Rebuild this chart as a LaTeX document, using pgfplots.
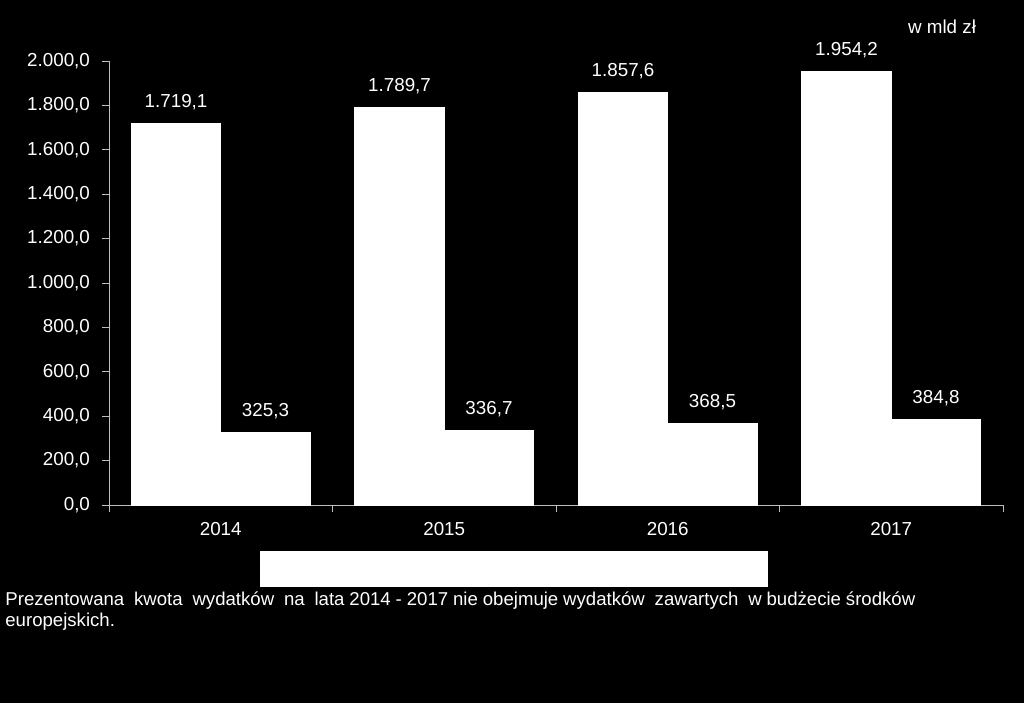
\documentclass[border=0pt]{standalone}
\usepackage{pgfplots}
\pgfplotsset{compat=1.18}
\usepackage{fontspec}
\setmainfont{Liberation Sans}
\definecolor{axisgray}{RGB}{190,190,190}

\begin{document}
\begin{tikzpicture}
% background, 1024x703 px at 0.5pt per px
\fill[black] (0,0) rectangle (512pt,351.5pt);
\begin{axis}[
    at={(54.5pt,99pt)},
    anchor=south west,
    scale only axis,
    width=447pt,
    height=222pt,
    xmin=-0.5, xmax=3.5,
    ymin=0, ymax=2000,
    axis x line*=bottom,
    axis y line*=left,
    axis line style={draw=axisgray, -},
    tick style={draw=axisgray, line width=0.5pt},
    tick align=outside,
    major tick length=3.5pt,
    xtick={-0.5,0.5,1.5,2.5,3.5},
    xticklabels={2014,2015,2016,2017},
    x tick label as interval,
    ytick={0,200,...,2000},
    tick label style={font=\fontsize{9.4}{10}\selectfont, text=white},
    yticklabel style={xshift=-2.5pt},
    xticklabel style={yshift=-1.5pt},
    /pgf/number format/assume math mode=true,
    /pgf/number format/.cd, fixed, fixed zerofill, precision=1, use comma, 1000 sep={.},
    /pgfplots/.cd,
    ybar,
    bar width=0.4,
    nodes near coords,
    nodes near coords style={font=\fontsize{9.4}{10}\selectfont, text=white, anchor=base, yshift=8pt,
        /pgf/number format/.cd, fixed, fixed zerofill, precision=1, use comma, 1000 sep={.}},
    legend image code/.code={},
    legend style={at={(0.453,-0.145)}, anchor=center, fill=white, draw=none,
        inner sep=0pt, legend columns=2, text=white,
        nodes={inner sep=0pt}},
]
\addplot[fill=white, draw=white, bar shift=-0.2] coordinates {
    (0,1719.1) (1,1789.7) (2,1857.6) (3,1954.2)
};
\addlegendentry{\makebox[127pt]{\rule{0pt}{16.5pt}}}
\addplot[fill=white, draw=white, bar shift=0.2] coordinates {
    (0,325.3) (1,336.7) (2,368.5) (3,384.8)
};
\addlegendentry{\makebox[127pt]{\rule{0pt}{16.5pt}}}
\end{axis}
\node[text=white, font=\fontsize{9.4}{10}\selectfont] at (471pt,338pt) {w mld zł};
\node[anchor=base west, text=white, inner sep=0pt, font=\fontsize{9.3}{10}\selectfont] at (2.5pt,49pt)
    {\makebox[455pt][s]{Prezentowana \ kwota \ wydatków \ na \ lata 2014 - 2017 nie obejmuje wydatków \ zawartych \ w budżecie środków}};
\node[anchor=base west, text=white, inner sep=0pt, font=\fontsize{9.3}{10}\selectfont] at (2.5pt,38.5pt)
    {europejskich.};
\pgfresetboundingbox
\useasboundingbox (0,0) rectangle (512pt,351.5pt);
\end{tikzpicture}
\end{document}
